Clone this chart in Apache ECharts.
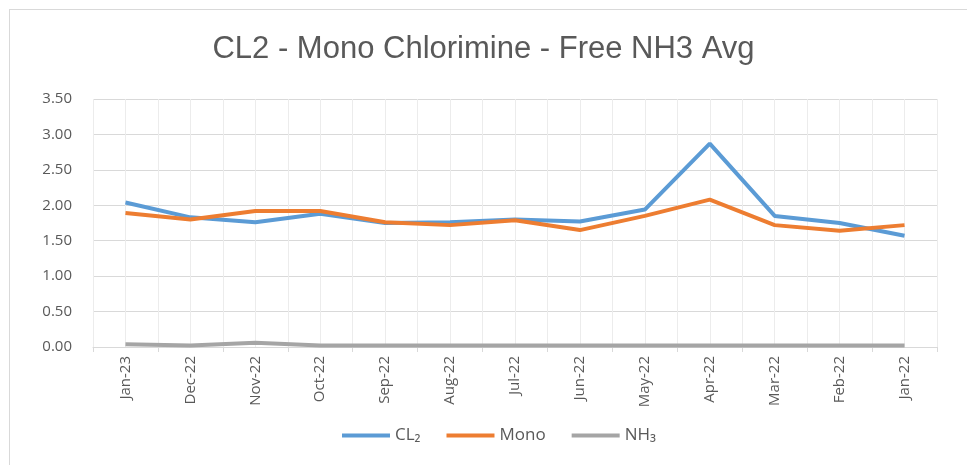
<!DOCTYPE html>
<html>
<head>
<meta charset="utf-8">
<script src="https://cdn.jsdelivr.net/npm/echarts@6/dist/echarts.min.js"></script>
<style>
  html, body { margin: 0; padding: 0; background: #fff; }
  #frame { position: absolute; left: 9px; top: 9px; width: 1000px; height: 500px;
           border-top: 1px solid #d9d9d9; border-left: 1px solid #d9d9d9; }
  #chart { position: absolute; left: 0; top: 0; width: 967px; height: 465px; }
</style>
</head>
<body>
<div id="frame"></div>
<div id="chart"></div>
<script>
  // months, newest first as in the source sheet
  var months = ['Jan-23', 'Dec-22', 'Nov-22', 'Oct-22', 'Sep-22', 'Aug-22', 'Jul-22',
                'Jun-22', 'May-22', 'Apr-22', 'Mar-22', 'Feb-22', 'Jan-22'];
  var cl2  = [2.04, 1.83, 1.76, 1.88, 1.75, 1.76, 1.80, 1.77, 1.94, 2.87, 1.85, 1.75, 1.57];
  var mono = [1.89, 1.80, 1.92, 1.92, 1.76, 1.72, 1.79, 1.65, 1.85, 2.08, 1.72, 1.64, 1.72];
  var nh3  = [0.04, 0.02, 0.06, 0.02, 0.02, 0.02, 0.02, 0.02, 0.02, 0.02, 0.02, 0.02, 0.02];
  var yTicks = { min: 0, max: 3.5, interval: 0.5 };

  var myChart = echarts.init(document.getElementById('chart'));
  var txt = '#595959';

  function line(name, data, color) {
    return {
      name: name,
      type: 'line',
      data: data,
      symbol: 'none',
      smooth: false,
      lineStyle: { color: color, width: 4 },
      itemStyle: { color: color }
    };
  }

  myChart.setOption({
    animation: false,
    title: {
      text: 'CL2 - Mono Chlorimine - Free NH3 Avg',
      left: 'center',
      top: 29,
      textStyle: { fontFamily: 'Liberation Sans', fontSize: 31, fontWeight: 'normal', color: txt }
    },
    legend: {
      bottom: 16,
      left: 337,
      itemWidth: 48,
      itemHeight: 4,
      itemGap: 26,
      icon: 'rect',
      textStyle: { fontFamily: 'Open Sans', fontSize: 17, color: txt },
      data: ['CL₂', 'Mono', 'NH₃']
    },
    grid: { left: 93, right: 30, top: 99, bottom: 118 },
    xAxis: [{
      type: 'category',
      data: months,
      boundaryGap: true,
      axisLine: { lineStyle: { color: '#d9d9d9' } },
      axisTick: { show: true, length: 5, lineStyle: { color: '#d9d9d9' } },
      axisLabel: { rotate: 90, margin: 9, fontFamily: 'Open Sans', fontSize: 15, color: txt },
      splitLine: { show: false }
    }, {
      // helper axis that only draws the light vertical grid every half category
      type: 'value',
      min: 0, max: 26, interval: 1,
      show: true,
      position: 'bottom',
      axisLine: { show: false },
      axisTick: { show: false },
      axisLabel: { show: false },
      splitLine: { show: true, lineStyle: { color: '#ececec', width: 1 } }
    }],
    yAxis: {
      type: 'value',
      min: yTicks.min,
      max: yTicks.max,
      interval: yTicks.interval,
      axisLine: { show: false },
      axisTick: { show: false },
      axisLabel: {
        margin: 21,
        fontFamily: 'Open Sans', fontSize: 15, color: txt,
        formatter: function (v) { return v.toFixed(2); }
      },
      splitLine: { lineStyle: { color: '#d9d9d9' } }
    },
    series: [
      line('CL₂', cl2, '#5b9bd5'),
      line('Mono', mono, '#ed7d31'),
      line('NH₃', nh3, '#a5a5a5')
    ]
  });
</script>
</body>
</html>
